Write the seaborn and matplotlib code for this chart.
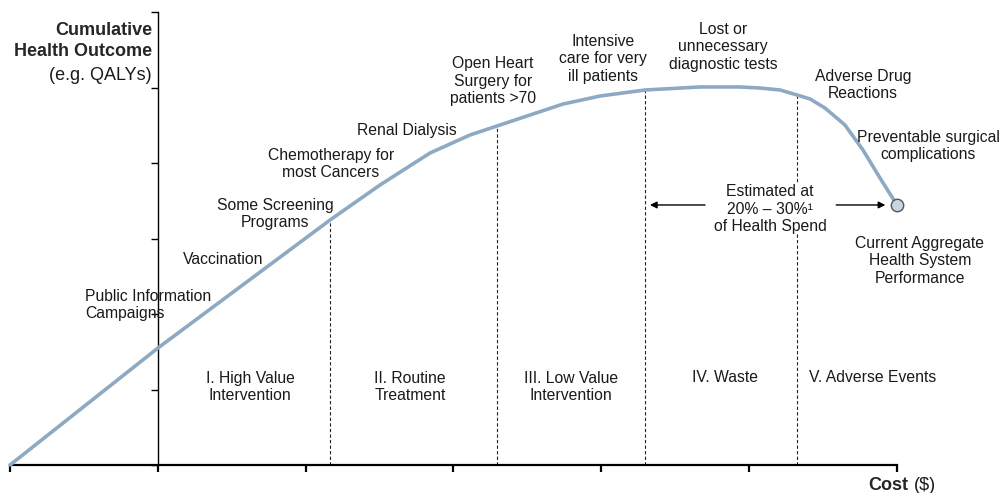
import numpy as np
import pandas as pd
import seaborn as sns
import matplotlib
matplotlib.use("Agg")
import matplotlib.pyplot as plt

sns.set_style("white")
plt.rcParams["font.family"] = ["Liberation Sans", "DejaVu Sans"]

# curve (cost units 0-6, outcome units 0-6)
cost = [0.0, 1.001, 2.165, 2.503, 2.841, 3.112, 3.294, 3.518, 3.741, 3.991, 4.296,
        4.668, 4.938, 5.073, 5.209, 5.324, 5.412, 5.513, 5.648, 5.770, 5.885, 6.0]
outcome = [0.0, 1.550, 3.245, 3.709, 4.132, 4.371, 4.490, 4.636, 4.781, 4.887, 4.967,
           5.007, 5.007, 4.993, 4.967, 4.901, 4.848, 4.728, 4.503, 4.172, 3.801, 3.444]
boundaries = [2.165, 3.294, 4.296, 5.324]
current_cost = [6.0]
current_outcome = [3.444]

curve_labels = ["Public Information\nCampaigns", "Vaccination", "Some Screening\nPrograms",
                "Chemotherapy for\nmost Cancers", "Renal Dialysis",
                "Open Heart\nSurgery for\npatients >70", "Intensive\ncare for very\nill patients",
                "Lost or\nunnecessary\ndiagnostic tests", "Adverse Drug\nReactions",
                "Preventable surgical\ncomplications", "Current Aggregate\nHealth System\nPerformance"]
zone_labels = ["I. High Value\nIntervention", "II. Routine\nTreatment",
               "III. Low Value\nIntervention", "IV. Waste", "V. Adverse Events"]
waste_note = "Estimated at\n20% \u2013 30%\u00b9\nof Health Spend"

W, H = 1003, 493
fig = plt.figure(figsize=(W / 100, H / 100), dpi=100)
ax = fig.add_axes([10 / W, 28 / H, 887 / W, 453 / H])

df = pd.DataFrame({"cost": cost, "outcome": outcome})
sns.lineplot(data=df, x="cost", y="outcome", ax=ax, color="#8eaac3", lw=2.6,
             sort=False, clip_on=False, zorder=3, solid_joinstyle="round")
sns.scatterplot(x=current_cost, y=current_outcome, ax=ax, s=80, color="#c7d4e1",
                edgecolor="#555555", linewidth=1.0, clip_on=False, zorder=4)

tops = np.interp(boundaries, cost, outcome)
ax.vlines(boundaries, 0, tops, colors="#222222", linestyles=(0, (3, 2)), lw=0.8, zorder=1)

ax.set_xlim(0, 6)
ax.set_ylim(0, 6)
ax.set_xticks(range(7))
ax.set_yticks(range(7))
ax.set_xticklabels([])
ax.set_yticklabels([])
ax.set_xlabel("")
ax.set_ylabel("")
for s in ["top", "right"]:
    ax.spines[s].set_visible(False)
ax.spines["left"].set_position(("data", 1))
ax.spines["left"].set_linewidth(1.0)
ax.spines["bottom"].set_linewidth(1.6)
ax.spines["left"].set_color("black")
ax.spines["bottom"].set_color("black")
ax.tick_params(axis="x", bottom=True, direction="out", length=5, width=1.6, color="black")
ax.tick_params(axis="y", left=True, direction="out", length=5, width=1.0, color="black")

# arrows for the waste estimate
ax.annotate("", xy=(4.31, 3.444), xytext=(4.72, 3.444),
            arrowprops=dict(arrowstyle="-|>", color="black", lw=1.0, mutation_scale=10))
ax.annotate("", xy=(5.94, 3.444), xytext=(5.57, 3.444),
            arrowprops=dict(arrowstyle="-|>", color="black", lw=1.0, mutation_scale=10))


def label(s, x, y, ha="center", **kw):
    fig.text(x / W, 1 - y / H, s, ha=ha, va="center", fontsize=11.3,
             color="#1a1a1a", linespacing=1.2, **kw)


label(curve_labels[0], 85, 305, ha="left")
label(curve_labels[1], 223, 260)
label(curve_labels[2], 275, 214)
label(curve_labels[3], 331, 164)
label(curve_labels[4], 407, 130)
label(curve_labels[5], 493, 81)
label(curve_labels[6], 603, 59)
label(curve_labels[7], 723, 47)
label(curve_labels[8], 863, 85)
label(curve_labels[9], 928, 146)
label(curve_labels[10], 920, 261)
label(waste_note, 770, 209, bbox=dict(facecolor="white", edgecolor="none", pad=0))

zone_x = [250, 410, 571, 725, 873]
for s, x in zip(zone_labels, zone_x):
    label(s, x, 378 if "\n" not in s else 387)

fig.text(152 / W, 1 - 41 / H, "Cumulative\nHealth Outcome", ha="right", va="center",
         fontsize=13, fontweight="bold", linespacing=1.3)
fig.text(152 / W, 1 - 75 / H, "(e.g. QALYs)", ha="right", va="center", fontsize=13,
         color="#1a1a1a")
fig.text(908 / W, 1 - 485 / H, "Cost", ha="right", va="center", fontsize=13, fontweight="bold")
fig.text(914 / W, 1 - 485 / H, "($)", ha="left", va="center", fontsize=13, color="#1a1a1a")

fig.savefig("out.png", dpi=100)
